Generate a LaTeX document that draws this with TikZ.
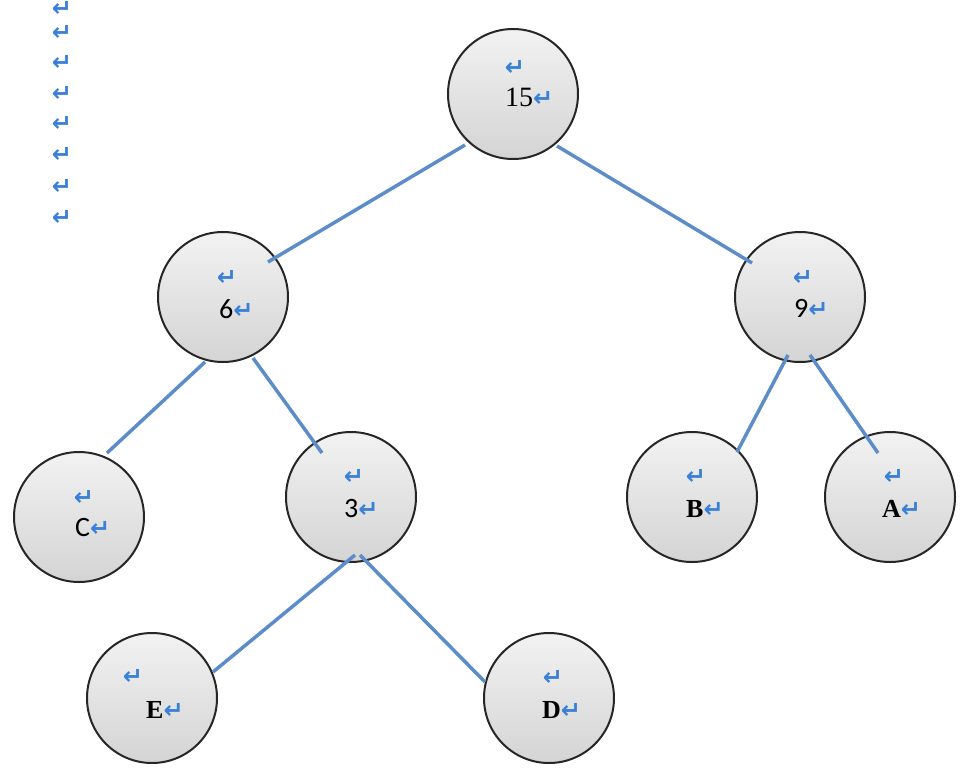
\documentclass[tikz,border=0pt]{standalone}
\usepackage{fontspec}
\setmainfont{Liberation Serif}
\newfontfamily\sansnum{Carlito}
\newfontfamily\retfont{DejaVu Sans Bold}
\definecolor{edgeblue}{RGB}{92,141,200}
\definecolor{retblue}{RGB}{58,128,215}
\definecolor{topgray}{RGB}{242,242,242}
\definecolor{botgray}{RGB}{212,212,212}
\newcommand\rt{{\retfont\fontsize{24}{24}\selectfont\textcolor{retblue}{↵}}}
\tikzset{
  treenode/.style={circle, draw=black!85, line width=2pt, minimum size=130pt, inner sep=0pt,
    top color=topgray, bottom color=botgray},
  edge/.style={draw=edgeblue, line width=3.5pt},
  retmark/.style={inner sep=0pt, anchor=center},
  serlab/.style={anchor=base west, inner sep=0pt, font=\fontsize{28}{28}\selectfont},
  boldlab/.style={anchor=base west, inner sep=0pt, font=\bfseries\fontsize{26}{26}\selectfont},
  sanslab/.style={anchor=base west, inner sep=0pt, font=\sansnum\fontsize{28}{28}\selectfont},
}
\begin{document}
\begin{tikzpicture}[x=1pt,y=-1pt]
\useasboundingbox (0,0) rectangle (962,782);
% circles
\node[treenode] (n15) at (513,94) {};
\node[treenode] (n6) at (223,297) {};
\node[treenode] (n9) at (800,297) {};
\node[treenode] (nC) at (79,517) {};
\node[treenode] (n3) at (351,497) {};
\node[treenode] (nB) at (692,497) {};
\node[treenode] (nA) at (890,497) {};
\node[treenode] (nE) at (152,698) {};
\node[treenode] (nD) at (549,698) {};
% connectors
\draw[edge] ([shift={(-48,51)}]n15.center) -- ([shift={(45,-35)}]n6.center);
\draw[edge] ([shift={(44,52)}]n15.center) -- ([shift={(-48,-34)}]n9.center);
\draw[edge] ([shift={(-18,65)}]n6.center) -- ([shift={(28,-64)}]nC.center);
\draw[edge] ([shift={(30,61)}]n6.center) -- ([shift={(-29,-44)}]n3.center);
\draw[edge] ([shift={(-12,58)}]n9.center) -- ([shift={(45,-45)}]nB.center);
\draw[edge] ([shift={(10,58)}]n9.center) -- ([shift={(-12,-44)}]nA.center);
\draw[edge] ([shift={(4,58)}]n3.center) -- ([shift={(61,-26)}]nE.center);
\draw[edge] ([shift={(9,58)}]n3.center) -- ([shift={(-64,-16)}]nD.center);
% texts inside circles
\node[retmark] (r15) at (515,68) {\rt};
\node[serlab] (t15) at (505,106) {15\rt};
\node[retmark] (r6) at (227,278) {\rt};
\node[sanslab] (t6) at (219,318) {6\rt};
\node[retmark] (r9) at (803,278) {\rt};
\node[sanslab] (t9) at (794,317) {9\rt};
\node[retmark] (rC) at (84,498) {\rt};
\node[sanslab] (tC) at (75,536) {C\rt};
\node[retmark] (r3) at (354,477) {\rt};
\node[sanslab] (t3) at (344,517) {3\rt};
\node[retmark] (rB) at (696,477) {\rt};
\node[boldlab] (tB) at (686,517) {B\rt};
\node[retmark] (rA) at (894,477) {\rt};
\node[boldlab] (tA) at (882,517) {A\rt};
\node[retmark] (rE) at (133,677) {\rt};
\node[boldlab] (tE) at (146,718) {E\rt};
\node[retmark] (rD) at (553,678) {\rt};
\node[boldlab] (tD) at (542,718) {D\rt};
% left margin marks
\node[retmark] (m1) at (62,9) {\rt};
\node[retmark] (m2) at (62,33) {\rt};
\node[retmark] (m3) at (62,63) {\rt};
\node[retmark] (m4) at (62,94) {\rt};
\node[retmark] (m5) at (62,124) {\rt};
\node[retmark] (m6) at (62,155) {\rt};
\node[retmark] (m7) at (62,187) {\rt};
\node[retmark] (m8) at (62,218) {\rt};
\end{tikzpicture}
\end{document}
